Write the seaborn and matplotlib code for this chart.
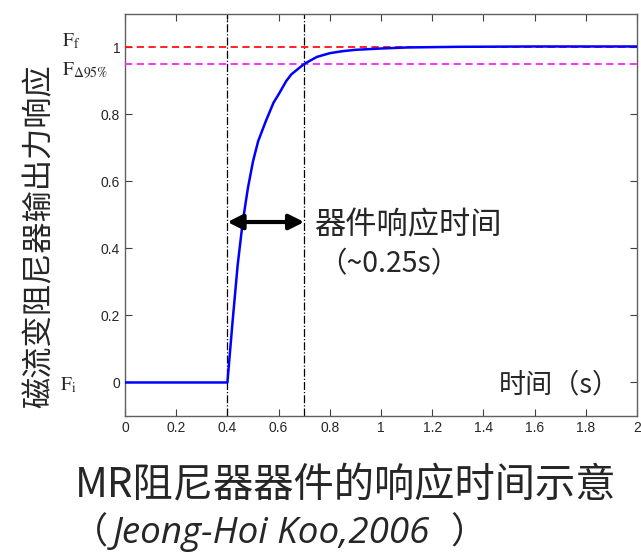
import matplotlib
matplotlib.use("Agg")
import matplotlib.pyplot as plt
import seaborn as sns
import pandas as pd
import numpy as np

# ---- data ----
time_s = [0.0, 0.4, 0.42, 0.44, 0.46, 0.48, 0.50, 0.52, 0.55, 0.58, 0.60, 0.63,
          0.65, 0.70, 0.75, 0.80, 0.85, 0.90, 1.00, 1.10, 1.30, 1.60, 2.00]
force = [0.0, 0.0, 0.18, 0.35, 0.48, 0.58, 0.66, 0.72, 0.78, 0.835, 0.86, 0.90,
         0.92, 0.951, 0.972, 0.983, 0.989, 0.993, 0.997, 1.0, 1.002, 1.003, 1.003]
F_final = 1.0
F_95 = 0.95
t_start = 0.4
t_95 = 0.7
x_ticks = [0, 0.2, 0.4, 0.6, 0.8, 1, 1.2, 1.4, 1.6, 1.8, 2]
x_ticklabels = ["0", "0.2", "0.4", "0.6", "0.8", "1", "1.2", "1.4", "1.6", "1.8", "2"]
y_ticks = [0, 0.2, 0.4, 0.6, 0.8, 1]
y_ticklabels = ["0", "0.2", "0.4", "0.6", "0.8", "1"]

sns.set_style("ticks")
plt.rcParams['font.family'] = ['Noto Sans CJK SC', 'DejaVu Sans']
plt.rcParams['mathtext.fontset'] = 'stix'

fig = plt.figure(figsize=(6.41, 5.55), dpi=100)
ax = fig.add_axes([0.195, 0.2505, 0.7988, 0.7243])

df = pd.DataFrame({"t": time_s, "F": force})
sns.lineplot(data=df, x="t", y="F", ax=ax, color="#0000ff", lw=1.8, zorder=4)

ax.axhline(F_final, color="#ff1010", ls=(0, (4, 2.5)), lw=1.3, zorder=3)
ax.axhline(F_95, color="#ff20ff", ls=(0, (4, 2.5)), lw=1.3, zorder=3)
ax.axvline(t_start, color="black", ls="-.", lw=0.9, zorder=2)
ax.axvline(t_95, color="black", ls="-.", lw=0.9, zorder=2)

ax.set_xlim(0, 2)
ax.set_ylim(-0.1, 1.1)
ax.set_xticks(x_ticks)
ax.set_xticklabels(x_ticklabels, family="Liberation Sans", fontsize=10)
ax.set_yticks(y_ticks)
ax.set_yticklabels(y_ticklabels, family="Liberation Sans", fontsize=10)
ax.tick_params(direction="in", top=True, right=True, length=5, width=0.8, color="#404040")
for s in ax.spines.values():
    s.set_color("#606060")
    s.set_linewidth(1.0)
ax.set_xlabel("")
ax.set_ylabel("")

# double arrow
ax.annotate("", xy=(t_start, 0.479), xytext=(t_95, 0.479),
            arrowprops=dict(arrowstyle="<|-|>,head_length=0.9,head_width=0.45",
                            lw=3, color="black", shrinkA=0, shrinkB=0), zorder=5)
fig.text(314 / 641, 1 - 225 / 555, "器件响应时间", fontsize=22.5, va="center", ha="left")
fig.text(318 / 641, 1 - 264 / 555, "（~0.25s）", fontsize=20.5, va="center", ha="left")
fig.text(620 / 641, 1 - 385 / 555, "时间（s）", fontsize=19.5, va="center", ha="right")

# y label
fig.text(40 / 641, 1 - 236 / 555, "磁流变阻尼器输出力响应", fontsize=22.5, rotation=90,
         va="center", ha="center")

# F labels
fig.text(62 / 641, 1 - 41 / 555, r"$\mathrm{F_f}$", fontsize=14, va="center", ha="left")
fig.text(62 / 641, 1 - 70 / 555, r"$\mathrm{F_{\Delta 95\%}}$", fontsize=14, va="center", ha="left")
fig.text(60 / 641, 1 - 385 / 555, r"$\mathrm{F_i}$", fontsize=14, va="center", ha="left")

# caption
fig.text(75 / 641, 1 - 486 / 555, "MR阻尼器器件的响应时间示意", fontsize=29, va="center", ha="left")
fig.text(72 / 641, 1 - 534 / 555, "（", fontsize=26, va="center", ha="left")
fig.text(113 / 641, 1 - 534 / 555, "Jeong-Hoi Koo,2006", fontsize=26.5, va="center", ha="left",
         style="italic", family=["Open Sans", "DejaVu Sans"])
fig.text(450 / 641, 1 - 534 / 555, "）", fontsize=26, va="center", ha="left")

fig.savefig("out.png", dpi=100)
